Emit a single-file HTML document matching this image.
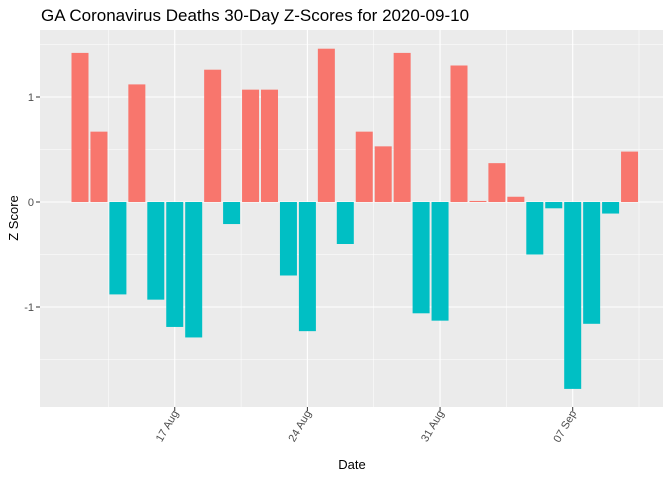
<!DOCTYPE html>
<html><head><meta charset="utf-8"><style>
body{margin:0;background:#fff;font-family:"Liberation Sans",sans-serif}
</style></head><body>
<svg id="chart" width="672" height="480" xmlns="http://www.w3.org/2000/svg">
<text x="41" y="21" font-size="17" fill="#000">GA Coronavirus Deaths 30-Day Z-Scores for 2020-09-10</text>
<rect x="40" y="30" width="623" height="377" fill="#ebebeb"/>
<g id="grid"></g><g id="bars"></g><g id="axes"></g>
<text x="352" y="469" font-size="13" text-anchor="middle" fill="#000">Date</text>
<text transform="translate(18,218) rotate(-90)" font-size="13" text-anchor="middle" fill="#000">Z Score</text>
</svg>
<script>
const dayLabels=["17 Aug","24 Aug","31 Aug","07 Sep"];
const dayTickIdx=[5,12,19,26];
const values=[1.42,0.67,-0.88,1.12,-0.93,-1.19,-1.29,1.26,-0.21,1.07,1.07,-0.70,-1.23,1.46,-0.40,0.67,0.53,1.42,-1.06,-1.13,1.30,0.01,0.37,0.05,-0.50,-0.06,-1.78,-1.16,-0.11,0.48];
const yTicks=[-1,0,1];
const yMinor=[-1.5,-0.5,0.5,1.5];
const NS="http://www.w3.org/2000/svg";
const x=i=>80+i*18.95;
const y=v=>202-v*105;
function mk(t,a,p){const e=document.createElementNS(NS,t);for(const k in a)e.setAttribute(k,a[k]);p.appendChild(e);return e;}
const g=document.getElementById('grid'),b=document.getElementById('bars'),ax=document.getElementById('axes');
yMinor.forEach(v=>{const l=mk('line',{x1:40,x2:663,y1:y(v),y2:y(v),stroke:'#fff','stroke-width':0.5},g);

});
for(let k=-1;k<4;k++){const xx=(x(dayTickIdx[0]+7*k)+x(dayTickIdx[0]+7*k+7))/2;if(xx<40||xx>663)continue;
const l=mk('line',{x1:xx,x2:xx,y1:30,y2:407,stroke:'#fff','stroke-width':0.5},g);

}
yTicks.forEach(v=>{const l=mk('line',{x1:40,x2:663,y1:y(v),y2:y(v),stroke:'#fff','stroke-width':1.1},g);


mk('line',{x1:36,x2:40,y1:y(v),y2:y(v),stroke:'#333'},ax);
const t=mk('text',{x:34,y:y(v)+4,'font-size':11,'text-anchor':'end',fill:'#4d4d4d'},ax);t.textContent=v;

});
dayTickIdx.forEach((d,i)=>{const xx=x(d);
const l=mk('line',{x1:xx,x2:xx,y1:30,y2:407,stroke:'#fff','stroke-width':1.1},g);


mk('line',{x1:xx,x2:xx,y1:407,y2:411,stroke:'#333'},ax);
const t=mk('text',{transform:`translate(${xx+4},${413}) rotate(-60)`,'font-size':11,'text-anchor':'end',fill:'#4d4d4d'},ax);t.textContent=dayLabels[i];

});
values.forEach((v,i)=>{const y0=y(Math.max(v,0)),y1=y(Math.min(v,0));
const r=mk('rect',{x:x(i)-8.5,y:y0,width:17,height:Math.max(y1-y0,0.5),fill:v>=0?'#F8766D':'#00BFC4'},b);

});
</script>
</body></html>
